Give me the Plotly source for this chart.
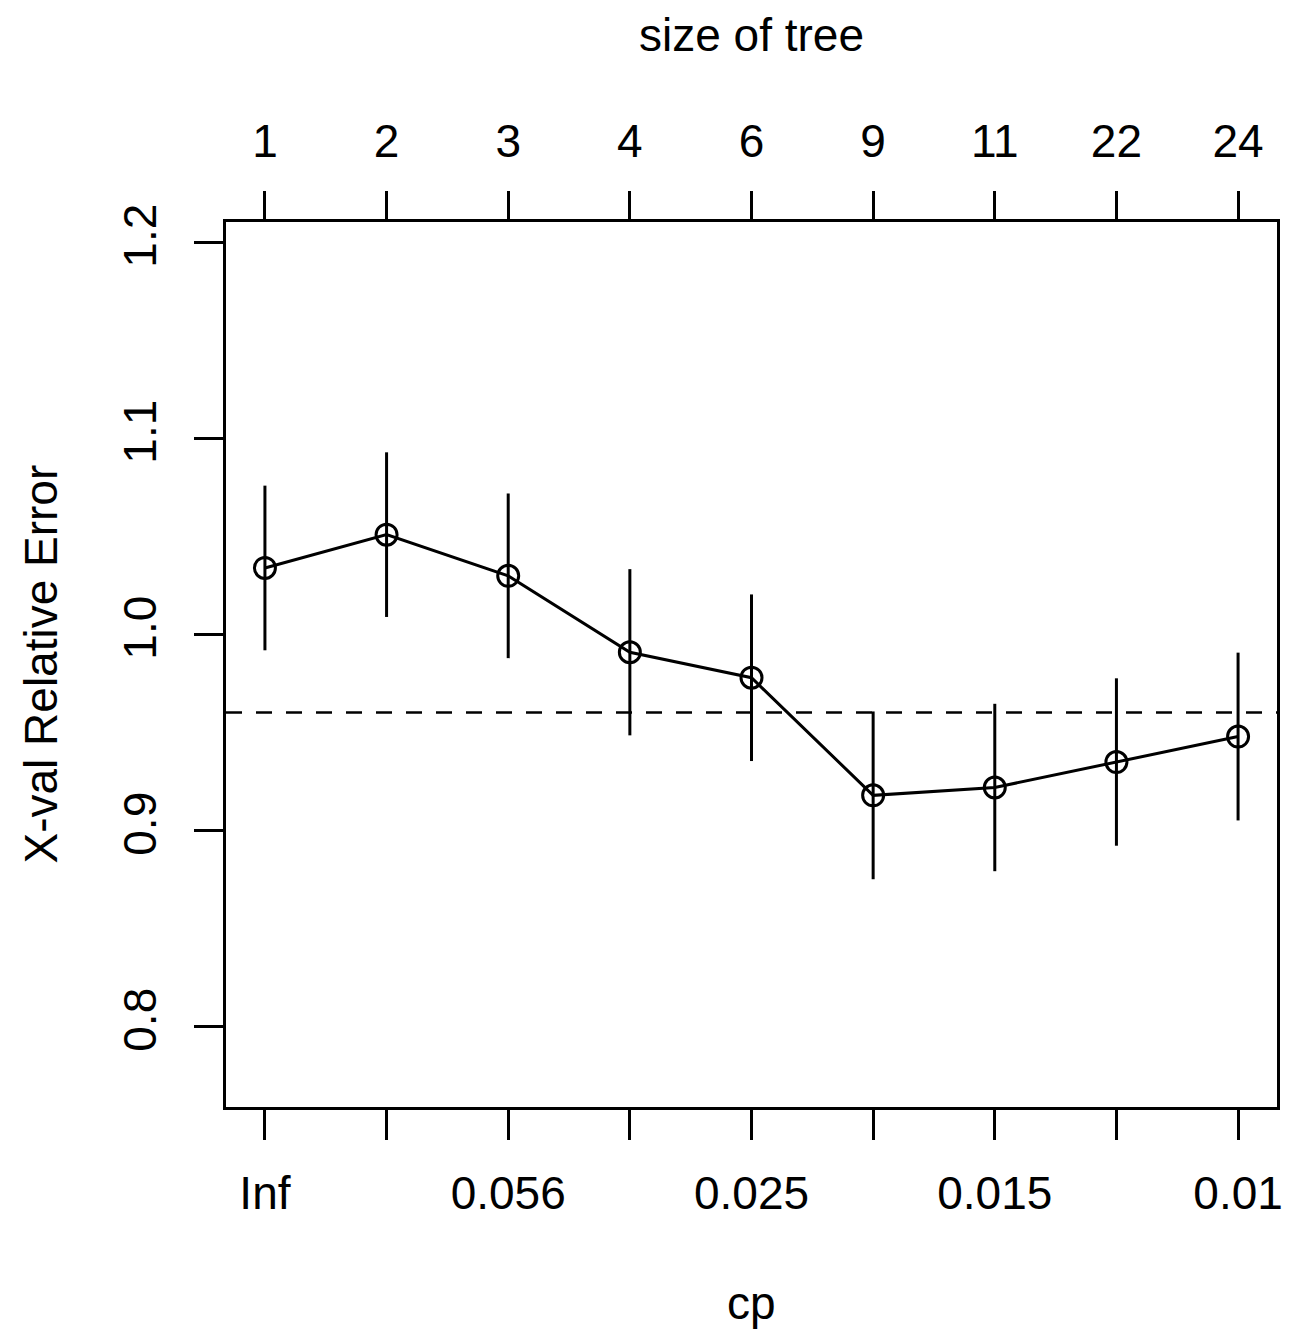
import plotly.graph_objects as go

# ---- data ----
tree_size = ["1", "2", "3", "4", "6", "9", "11", "22", "24"]
cp_labels = ["Inf", "", "0.056", "", "0.025", "", "0.015", "", "0.01"]
xerror = [1.034, 1.051, 1.030, 0.991, 0.978, 0.918, 0.922, 0.935, 0.948]
xstd = [0.042, 0.042, 0.042, 0.0424, 0.0425, 0.0428, 0.0427, 0.0427, 0.0428]
threshold = 0.9603
y_ticks = [0.8, 0.9, 1.0, 1.1, 1.2]
y_ticktext = ["0.8", "0.9", "1.0", "1.1", "1.2"]

idx = list(range(1, len(tree_size) + 1))
FONT = "Liberation Sans, Arial, Helvetica, sans-serif"
FS = 46
LW = 3

fig = go.Figure()
fig.add_trace(go.Scatter(
    x=idx, y=xerror, mode="lines+markers",
    line=dict(color="black", width=LW),
    marker=dict(symbol="circle-open", size=21, color="black", line=dict(width=LW, color="black")),
    error_y=dict(type="data", array=xstd, visible=True, width=0, thickness=LW, color="black"),
    showlegend=False, hoverinfo="skip",
))
# invisible trace so the top axis is drawn
fig.add_trace(go.Scatter(x=idx, y=xerror, xaxis="x2", mode="markers",
                         marker=dict(opacity=0), showlegend=False, hoverinfo="skip"))

fig.add_shape(type="line", xref="paper", x0=0, x1=1, yref="y", y0=threshold, y1=threshold,
              line=dict(color="black", width=LW - 0.5, dash="16px,14px"))

# page has an 8px body margin: figure occupies 1290x1322 starting at (8, 8)
W, H = 1290, 1322
L, T = 218, 214
R = 8 + W - 1277
B = 8 + H - 1107
ph = H - T - B
pw = W - L - R

xr = [0.68, 9.32]
fig.update_layout(
    width=W, height=H,
    margin=dict(l=L, r=R, t=T, b=B),
    paper_bgcolor="white", plot_bgcolor="white",
    font=dict(family=FONT, size=FS, color="black"),
    xaxis=dict(range=xr, tickvals=idx, ticktext=cp_labels, ticks="outside", ticklen=30,
               tickwidth=LW - 0.5, tickcolor="black", showline=True, linecolor="black", linewidth=LW - 0.5,
               mirror=True, showgrid=False, zeroline=False, ticklabelstandoff=14,
               tickfont=dict(size=FS)),
    xaxis2=dict(range=xr, tickvals=idx, ticktext=tree_size, overlaying="x", side="top",
                ticks="outside", ticklen=30, tickwidth=LW - 0.5, tickcolor="black",
                showline=False, showgrid=False, zeroline=False, ticklabelstandoff=16,
                tickfont=dict(size=FS)),
    yaxis=dict(range=[0.759, 1.2105], tickvals=y_ticks, ticktext=y_ticktext, ticks="outside",
               ticklen=29, tickwidth=LW - 0.5, tickcolor="black", showline=True, linecolor="black",
               linewidth=LW - 0.5, mirror=True, showgrid=False, zeroline=False, tickangle=-90,
               ticklabelstandoff=20, tickfont=dict(size=FS)),
    annotations=[
        dict(text="cp", xref="paper", yref="paper", x=0.5, y=(1107 - 1303) / ph,
             showarrow=False, xanchor="center", yanchor="middle", font=dict(size=FS)),
        dict(text="size of tree", xref="paper", yref="paper", x=0.5, y=(1107 - 35) / ph,
             showarrow=False, xanchor="center", yanchor="middle", font=dict(size=FS)),
        dict(text="X-val Relative Error", xref="paper", yref="paper", x=(40 - 226) / pw,
             y=0.5, showarrow=False, xanchor="center", yanchor="middle", textangle=-90,
             font=dict(size=FS)),
    ],
)

fig.write_html("out.html")
